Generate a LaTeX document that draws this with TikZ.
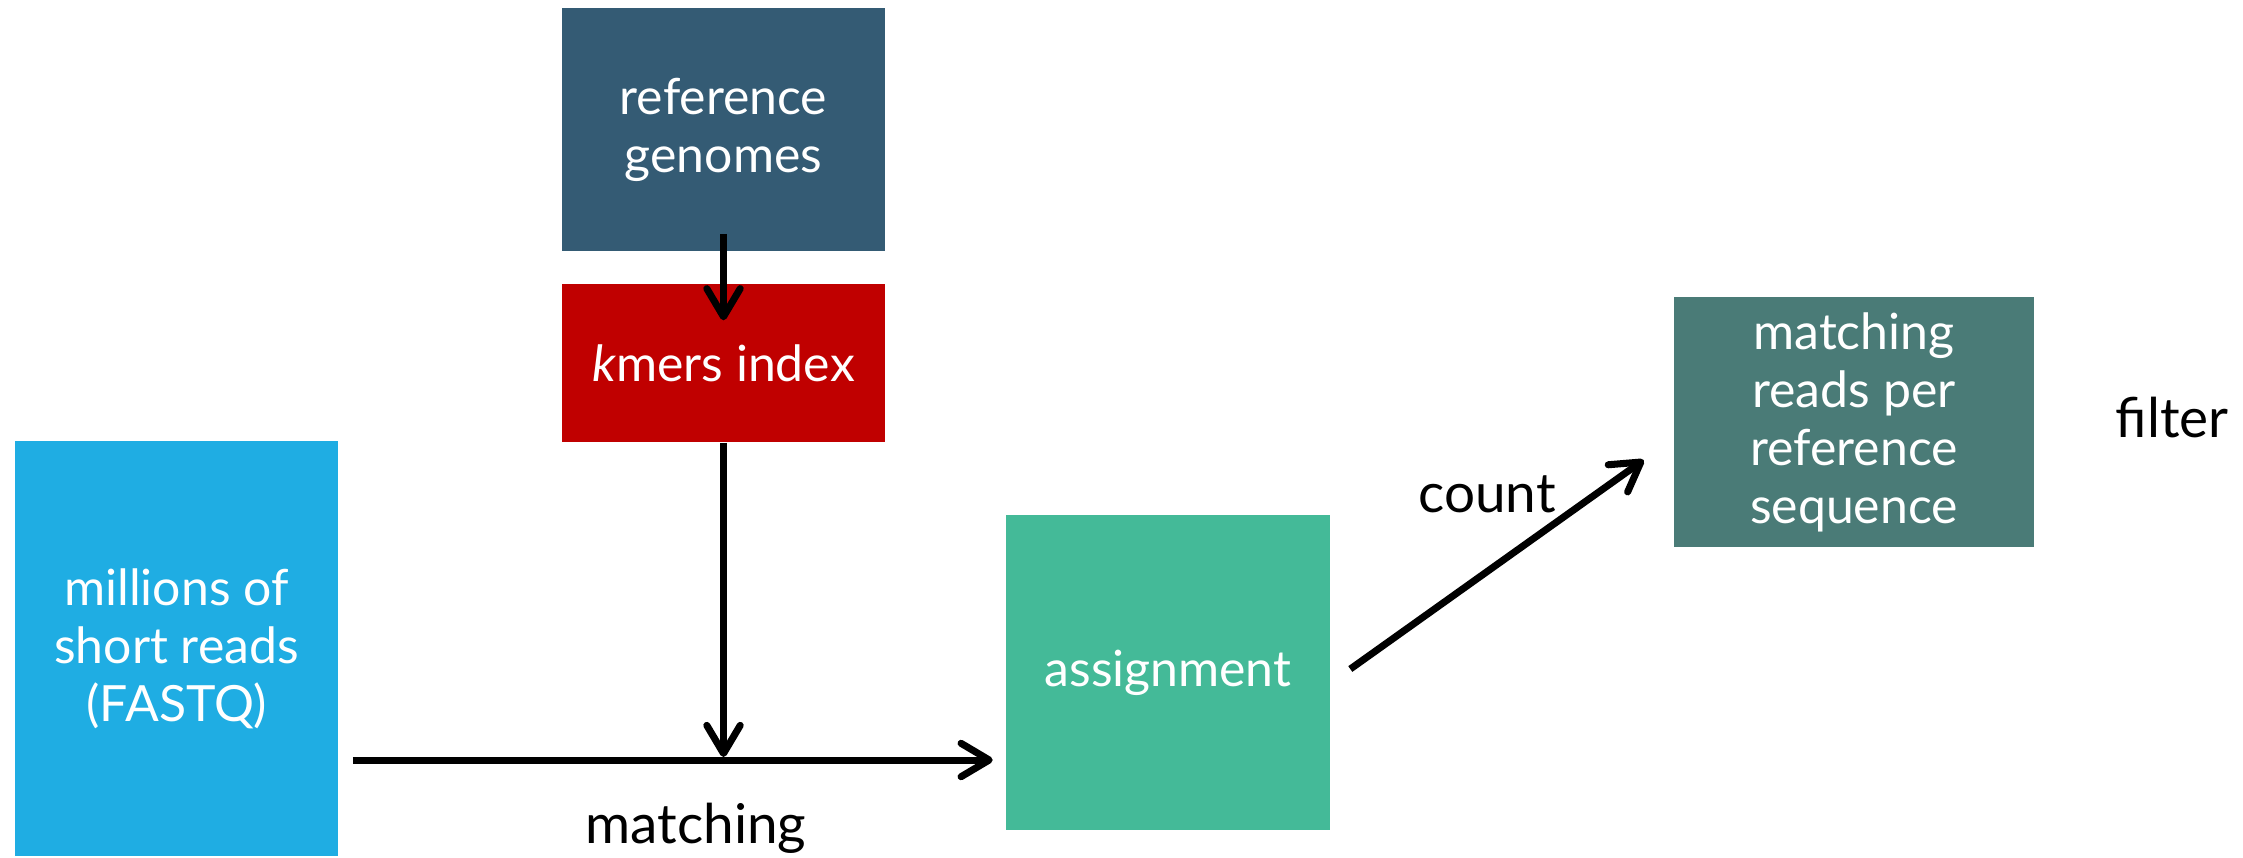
\documentclass[tikz,border=0pt]{standalone}
\usepackage{fontspec}
\setmainfont{Lato}
\usetikzlibrary{arrows.meta,calc}

\definecolor{refblue}{HTML}{345B74}
\definecolor{kmerred}{HTML}{C00000}
\definecolor{readsblue}{HTML}{1FADE3}
\definecolor{assigngreen}{HTML}{44BA98}
\definecolor{countteal}{HTML}{4A7B77}

\tikzset{
  box/.style={rectangle, inner sep=0pt, text=white, align=center,
    font=\fontsize{14.2pt}{16.5pt}\selectfont},
  lbl/.style={inner sep=0pt, anchor=base, font=\fontsize{15.6pt}{18pt}\selectfont},
  flow/.style={line width=2pt, -{Straight Barb[length=8pt,width=9.5pt,line cap=round,line join=round]}}
}

\begin{document}
\begin{tikzpicture}[x=0.01cm, y=-0.01cm]
  \useasboundingbox (0,0) rectangle (2243,857);

  % data and index boxes
  \node[box, fill=refblue, minimum width=3.23cm, minimum height=2.43cm]
    (ref) at (723.5,129.5) {reference\\genomes};
  \node[box, fill=kmerred, minimum width=3.23cm, minimum height=1.58cm]
    (kmer) at (723.5,363) {\textit{k}mers index};
  \node[box, fill=readsblue, minimum width=3.23cm, minimum height=4.15cm]
    (reads) at (176.5,648.5) {millions of\\short reads\\(FASTQ)};
  \node[box, fill=assigngreen, minimum width=3.23cm, minimum height=3.15cm]
    (assign) at (1168,672.5) {assignment};
  \node[box, fill=countteal, minimum width=3.59cm, minimum height=2.5cm]
    (perref) at (1854,422) {matching\\reads per\\reference\\sequence};

  % step labels
  \node[lbl] (lmatch) at (696,843) {matching};
  \node[lbl] (lcount) at (1487,512) {count};
  \node[lbl] (lfilter) at (2172,437) {filter};

  % junction of the index lookup with the read stream
  \coordinate (join) at (723.5,760);

  % connectors
  \draw[flow] ($(ref.south)+(0,-18)$) -- ($(kmer.north)+(0,37)$);
  \draw[flow] (kmer.south) -- ($(join)+(0,-3)$);
  \draw[flow] ($(reads.east |- join)+(14,0)$) -- ($(assign.west |- join)+(-13,0)$);
  \draw[flow] ($(assign.east)+(20,-3.5)$) -- ($(perref.west)+(-30,38)$);
\end{tikzpicture}
\end{document}
